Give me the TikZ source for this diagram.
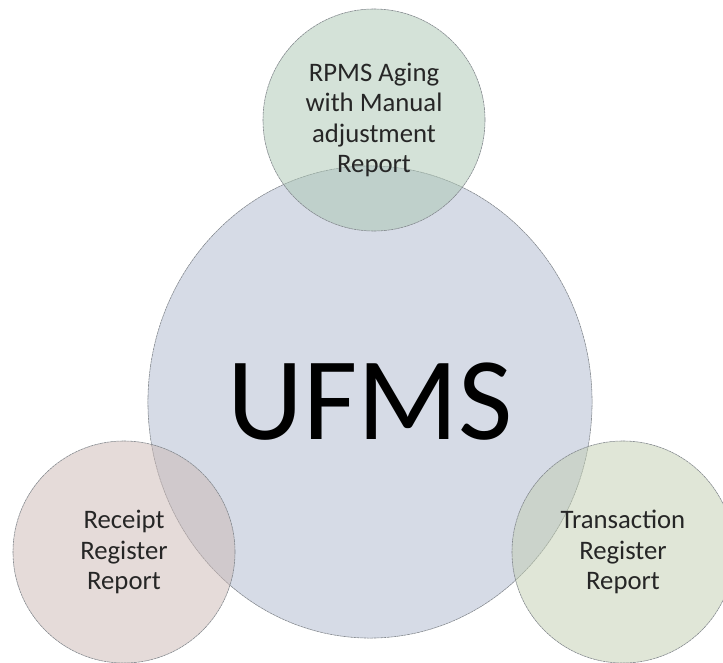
\documentclass[tikz,border=0pt]{standalone}
\usepackage{fontspec}
\setmainfont{Carlito}
\usetikzlibrary{shapes.geometric}

\definecolor{ufmsfill}{RGB}{200,207,222}
\definecolor{rpmsfill}{RGB}{169,197,177}
\definecolor{receiptfill}{RGB}{203,183,179}
\definecolor{transfill}{RGB}{193,205,175}
\definecolor{rimgray}{RGB}{130,135,140}

\tikzset{
	rim/.style={draw=rimgray, line width=0.4pt, dash pattern=on 2pt off 0.4pt},
	bigbubble/.style={rim, ellipse, fill=ufmsfill, fill opacity=0.75, text opacity=1,
		minimum width=11.1cm, minimum height=11.8cm, inner sep=0pt,
		font=\fontsize{84}{90}\selectfont},
	report/.style={rim, circle, fill opacity=0.5, text opacity=1,
		minimum size=5.55cm, inner sep=0pt, align=center,
		font=\fontsize{19}{21.5}\selectfont, text=black!85}
}

\begin{document}
\begin{tikzpicture}[x=0.025cm, y=-0.025cm]
		\useasboundingbox (0,0) rectangle (723,663);

		% Central system
		\node[bigbubble] (ufms) at (370,402) {UFMS};

		% Reports around it
		\node[report, fill=rpmsfill] (rpms) at (374,120) {RPMS Aging\\with Manual\\adjustment\\Report};
		\node[report, fill=receiptfill] (receipt) at (124,552) {Receipt\\Register\\Report};
		\node[report, fill=transfill] (trans) at (623,552) {Transaction\\Register\\Report};

	\end{tikzpicture}
\end{document}
